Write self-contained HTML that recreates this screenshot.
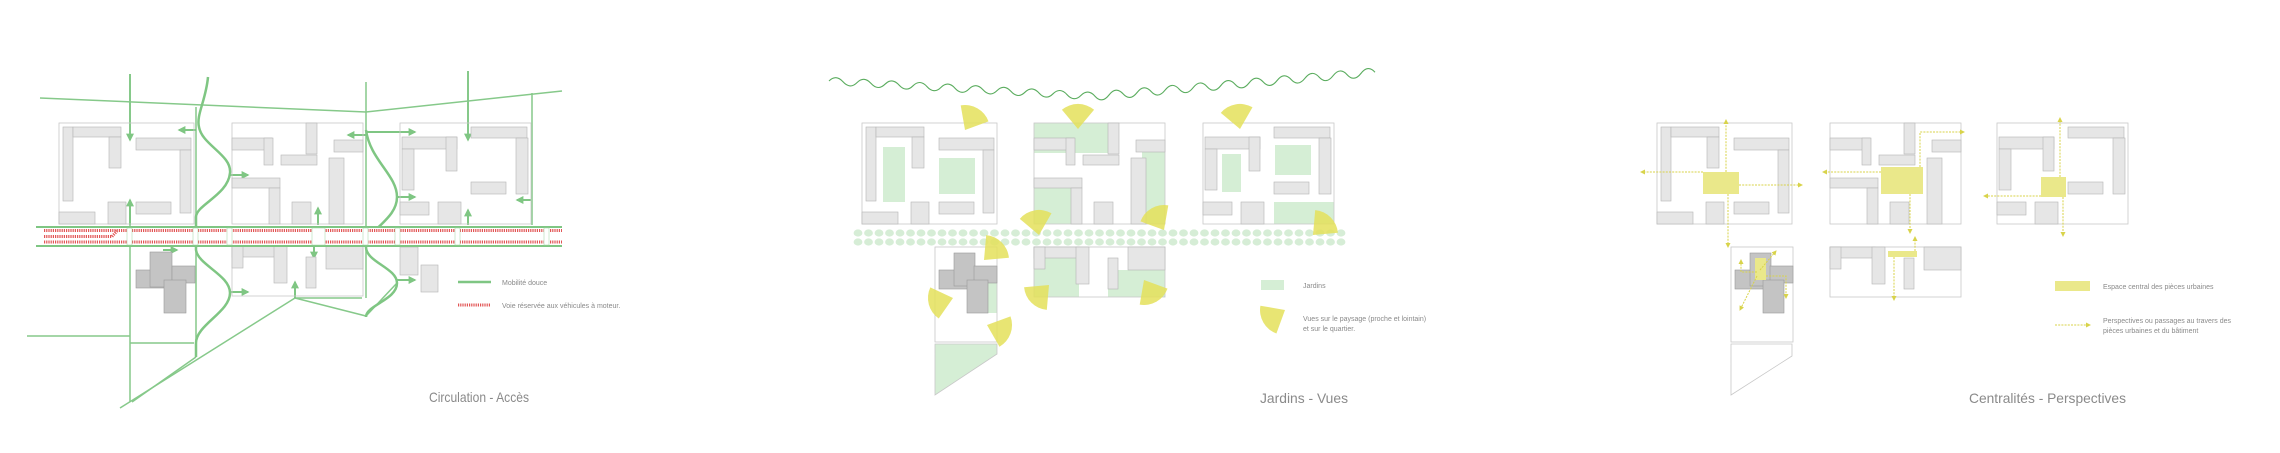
<!DOCTYPE html>
<html><head><meta charset="utf-8"><style>
html,body{margin:0;padding:0;background:#fff;}
svg{display:block;}
text{font-family:"Liberation Sans",sans-serif;fill:#8a8a8a;}
</style></head><body>
<svg width="2280" height="453" viewBox="0 0 2280 453" xmlns="http://www.w3.org/2000/svg">
<defs>
<marker id="ag" viewBox="0 0 10 10" refX="8" refY="5" markerWidth="4" markerHeight="4" orient="auto"><path d="M0,0L10,5L0,10z" fill="#7fc683"/></marker>
<marker id="ay" viewBox="0 0 10 10" refX="8" refY="5" markerWidth="5" markerHeight="5" orient="auto"><path d="M0,0L10,5L0,10z" fill="#d8d34a"/></marker>
<g id="bA">
<rect x="0" y="0" width="135" height="101" fill="none" stroke="#c8c8c8" stroke-width="0.8"/>
<g fill="#e6e6e6" stroke="#b5b5b5" stroke-width="0.6">
<rect x="4" y="4" width="10" height="74"/><rect x="14" y="4" width="48" height="10"/><rect x="50" y="14" width="12" height="31"/>
<rect x="77" y="15" width="55" height="12"/><rect x="121" y="27" width="11" height="63"/><rect x="77" y="79" width="35" height="12"/>
<rect x="0" y="89" width="36" height="12"/><rect x="49" y="79" width="18" height="22"/></g></g>
<g id="bB">
<rect x="0" y="0" width="131" height="101" fill="none" stroke="#c8c8c8" stroke-width="0.8"/>
<g fill="#e6e6e6" stroke="#b5b5b5" stroke-width="0.6">
<rect x="0" y="15" width="40" height="12"/><rect x="32" y="15" width="9" height="27"/><rect x="49" y="32" width="36" height="10"/>
<rect x="74" y="0" width="11" height="31"/><rect x="0" y="55" width="48" height="10"/><rect x="37" y="65" width="11" height="36"/>
<rect x="60" y="79" width="19" height="22"/><rect x="102" y="17" width="29" height="12"/><rect x="97" y="35" width="15" height="66"/></g></g>
<g id="bC">
<rect x="0" y="0" width="131" height="101" fill="none" stroke="#c8c8c8" stroke-width="0.8"/>
<g fill="#e6e6e6" stroke="#b5b5b5" stroke-width="0.6">
<rect x="71" y="4" width="56" height="11"/><rect x="116" y="15" width="12" height="56"/><rect x="71" y="59" width="35" height="12"/>
<rect x="2" y="14" width="55" height="12"/><rect x="2" y="26" width="12" height="41"/><rect x="46" y="14" width="11" height="34"/>
<rect x="0" y="79" width="29" height="13"/><rect x="38" y="79" width="23" height="22"/></g></g>
<g id="bL">
<rect x="0" y="0" width="62" height="95" fill="none" stroke="#c8c8c8" stroke-width="0.8"/>
<g fill="#c4c4c4" stroke="#9a9a9a" stroke-width="0.6">
<rect x="4" y="23" width="35" height="19"/><rect x="19" y="6" width="21" height="33"/><rect x="39" y="19" width="23" height="17"/><rect x="32" y="33" width="21" height="33"/></g></g>
<g id="bD">
<rect x="0" y="0" width="131" height="50" fill="none" stroke="#c8c8c8" stroke-width="0.8"/>
<g fill="#e6e6e6" stroke="#b5b5b5" stroke-width="0.6">
<rect x="0" y="0" width="45" height="11"/><rect x="0" y="0" width="11" height="22"/><rect x="42" y="0" width="13" height="37"/>
<rect x="74" y="11" width="10" height="31"/><rect x="94" y="0" width="37" height="23"/></g></g>
</defs>

<!-- ===== PANEL 1 ===== -->
<g fill="none" stroke="#86c98a" stroke-width="1.5">
<polyline points="40,98 366,112 562,91"/>
<line x1="130" y1="74" x2="130" y2="140" marker-end="url(#ag)" stroke-width="2"/>
<line x1="130" y1="225" x2="130" y2="402"/>
<line x1="196" y1="107" x2="196" y2="357"/>
<line x1="366" y1="82" x2="366" y2="298"/>
<line x1="468" y1="71" x2="468" y2="140" marker-end="url(#ag)" stroke-width="2"/>
<line x1="532" y1="93" x2="532" y2="225"/>
<line x1="120" y1="408" x2="295" y2="298"/>
<line x1="132" y1="402" x2="196" y2="357"/>
<polyline points="295,298 366,316 397,283"/>
<line x1="27" y1="336" x2="130" y2="336"/>
<line x1="130" y1="343" x2="194" y2="343"/>
<line x1="295" y1="298" x2="362" y2="298"/>
</g>
<g fill="none" stroke="#7fc683" stroke-width="2.5">
<path d="M208,77 C206,100 196,115 199,127 C202,145 232,155 230,173 C228,195 196,205 196,217 L196,250 C198,265 230,275 230,293 C230,312 196,325 196,343 L196,357"/>
<path d="M366,130 C370,160 397,175 397,197 C397,220 366,230 366,247 C366,262 397,268 397,283 C397,300 366,305 366,317"/>
</g>
<g stroke="#7fc683" stroke-width="2" fill="none">
<line x1="130" y1="225" x2="130" y2="200" marker-end="url(#ag)"/>
<line x1="468" y1="225" x2="468" y2="210" marker-end="url(#ag)"/>
<line x1="318" y1="225" x2="318" y2="208" marker-end="url(#ag)"/>
<line x1="314" y1="246" x2="314" y2="258" marker-end="url(#ag)"/>
<line x1="295" y1="298" x2="295" y2="282" marker-end="url(#ag)"/>
<line x1="196" y1="130" x2="179" y2="130" marker-end="url(#ag)"/>
<line x1="230" y1="175" x2="248" y2="175" marker-end="url(#ag)"/>
<line x1="366" y1="135" x2="348" y2="135" marker-end="url(#ag)"/>
<line x1="366" y1="132" x2="415" y2="132" marker-end="url(#ag)"/>
<line x1="397" y1="197" x2="415" y2="197" marker-end="url(#ag)"/>
<line x1="531" y1="200" x2="517" y2="200" marker-end="url(#ag)"/>
<line x1="230" y1="292" x2="248" y2="292" marker-end="url(#ag)"/>
<line x1="397" y1="280" x2="415" y2="280" marker-end="url(#ag)"/>
<line x1="163" y1="250" x2="177" y2="250" marker-end="url(#ag)"/>
</g>
<use href="#bA" x="59" y="123"/>
<use href="#bB" x="232" y="123"/>
<use href="#bC" x="400" y="123"/>
<use href="#bD" x="232" y="246"/>
<g fill="#c4c4c4" stroke="#9a9a9a" stroke-width="0.6">
<rect x="136" y="270" width="36" height="18"/><rect x="150" y="252" width="22" height="35"/><rect x="172" y="266" width="23" height="17"/><rect x="164" y="280" width="22" height="33"/></g>
<g fill="#e6e6e6" stroke="#b5b5b5" stroke-width="0.6"><rect x="400" y="247" width="18" height="28"/><rect x="421" y="265" width="17" height="27"/></g>
<!-- road -->
<rect x="36" y="227" width="526" height="19" fill="#fff"/>
<line x1="36" y1="227" x2="562" y2="227" stroke="#7fc683" stroke-width="2"/>
<line x1="36" y1="246" x2="562" y2="246" stroke="#7fc683" stroke-width="2"/>
<g stroke="#e25555" stroke-width="3" stroke-dasharray="1.2 1">
<line x1="44" y1="230.5" x2="562" y2="230.5"/><line x1="44" y1="236.5" x2="112" y2="236.5"/><line x1="44" y1="242" x2="562" y2="242"/>
<line x1="112" y1="236.5" x2="117" y2="231"/></g>
<g fill="#fff" stroke="#9fd6a2" stroke-width="0.5">
<rect x="127" y="228" width="5" height="17"/><rect x="193" y="228" width="5" height="17"/><rect x="227" y="228" width="5" height="17"/>
<rect x="312" y="228" width="13" height="17"/><rect x="363" y="228" width="5" height="17"/><rect x="395" y="228" width="5" height="17"/>
<rect x="455" y="228" width="5" height="17"/><rect x="544" y="228" width="5" height="17"/></g>
<line x1="458" y1="282" x2="491" y2="282" stroke="#7fc683" stroke-width="2.5"/>
<line x1="458" y1="305" x2="491" y2="305" stroke="#e25555" stroke-width="3" stroke-dasharray="1.2 1"/>
<text x="502" y="285" font-size="7">Mobilité douce</text>
<text x="502" y="308" font-size="7">Voie réservée aux véhicules à moteur.</text>
<text x="429" y="402" font-size="14" textLength="100" lengthAdjust="spacingAndGlyphs">Circulation - Accès</text>

<!-- ===== PANEL 2 ===== -->
<path fill="none" stroke="#5aac5e" stroke-width="1.1" d="M829,81 q7,-7 14,0.8 t14,0.8 t14,0.8 t14,0.8 t14,0.8 t14,0.8 t14,0.8 t14,0.8 t14,0.8 t14,0.8 t14,0.8 t14,0.8 t14,0.8 t14,0.8 t14,0.8 t14,0.8 t14,0.8 t14,0.8 t14,0.8 t14,-1.2 t14,-1.2 t14,-1.2 t14,-1.2 t14,-1.2 t14,-1.2 t14,-1.2 t14,-1.2 t14,-1.2 t14,-1.2 t14,-1.2 t14,-1.2 t14,-1.2 t14,-1.2 t14,-1.2 t14,-1.2 t14,-1.2 t14,-1.2 t14,-1.2 t14,-1.2"/>
<g fill="#d5eed5">
<rect x="883" y="147" width="22" height="55"/><rect x="939" y="158" width="36" height="36"/>
<rect x="1034" y="123" width="74" height="30"/><rect x="1034" y="188" width="38" height="36"/><rect x="1142" y="152" width="23" height="72"/>
<rect x="1275" y="145" width="36" height="30"/><rect x="1222" y="154" width="19" height="38"/><rect x="1274" y="202" width="60" height="22"/>
<rect x="988" y="283" width="9" height="30"/>
<rect x="1034" y="258" width="45" height="39"/><rect x="1108" y="270" width="57" height="27"/>
<polygon points="935,344 997,344 997,354 935,395" stroke="#c8c8c8" stroke-width="0.8"/>
</g>
<use href="#bA" x="862" y="123"/>
<use href="#bB" x="1034" y="123"/>
<use href="#bC" x="1203" y="123"/>
<use href="#bL" x="935" y="247"/>
<use href="#bD" x="1034" y="247"/>
<g id="dotrow" fill="#d6edd6">
<ellipse cx="858" cy="233" rx="4.4" ry="3.6"/><ellipse cx="868.5" cy="233" rx="4.4" ry="3.6"/><ellipse cx="879" cy="233" rx="4.4" ry="3.6"/><ellipse cx="889.5" cy="233" rx="4.4" ry="3.6"/><ellipse cx="900" cy="233" rx="4.4" ry="3.6"/><ellipse cx="910.5" cy="233" rx="4.4" ry="3.6"/><ellipse cx="921" cy="233" rx="4.4" ry="3.6"/><ellipse cx="931.5" cy="233" rx="4.4" ry="3.6"/><ellipse cx="942" cy="233" rx="4.4" ry="3.6"/><ellipse cx="952.5" cy="233" rx="4.4" ry="3.6"/><ellipse cx="963" cy="233" rx="4.4" ry="3.6"/><ellipse cx="973.5" cy="233" rx="4.4" ry="3.6"/><ellipse cx="984" cy="233" rx="4.4" ry="3.6"/><ellipse cx="994.5" cy="233" rx="4.4" ry="3.6"/><ellipse cx="1005" cy="233" rx="4.4" ry="3.6"/><ellipse cx="1015.5" cy="233" rx="4.4" ry="3.6"/><ellipse cx="1026" cy="233" rx="4.4" ry="3.6"/><ellipse cx="1036.5" cy="233" rx="4.4" ry="3.6"/><ellipse cx="1047" cy="233" rx="4.4" ry="3.6"/><ellipse cx="1057.5" cy="233" rx="4.4" ry="3.6"/><ellipse cx="1068" cy="233" rx="4.4" ry="3.6"/><ellipse cx="1078.5" cy="233" rx="4.4" ry="3.6"/><ellipse cx="1089" cy="233" rx="4.4" ry="3.6"/><ellipse cx="1099.5" cy="233" rx="4.4" ry="3.6"/><ellipse cx="1110" cy="233" rx="4.4" ry="3.6"/><ellipse cx="1120.5" cy="233" rx="4.4" ry="3.6"/><ellipse cx="1131" cy="233" rx="4.4" ry="3.6"/><ellipse cx="1141.5" cy="233" rx="4.4" ry="3.6"/><ellipse cx="1152" cy="233" rx="4.4" ry="3.6"/><ellipse cx="1162.5" cy="233" rx="4.4" ry="3.6"/><ellipse cx="1173" cy="233" rx="4.4" ry="3.6"/><ellipse cx="1183.5" cy="233" rx="4.4" ry="3.6"/><ellipse cx="1194" cy="233" rx="4.4" ry="3.6"/><ellipse cx="1204.5" cy="233" rx="4.4" ry="3.6"/><ellipse cx="1215" cy="233" rx="4.4" ry="3.6"/><ellipse cx="1225.5" cy="233" rx="4.4" ry="3.6"/><ellipse cx="1236" cy="233" rx="4.4" ry="3.6"/><ellipse cx="1246.5" cy="233" rx="4.4" ry="3.6"/><ellipse cx="1257" cy="233" rx="4.4" ry="3.6"/><ellipse cx="1267.5" cy="233" rx="4.4" ry="3.6"/><ellipse cx="1278" cy="233" rx="4.4" ry="3.6"/><ellipse cx="1288.5" cy="233" rx="4.4" ry="3.6"/><ellipse cx="1299" cy="233" rx="4.4" ry="3.6"/><ellipse cx="1309.5" cy="233" rx="4.4" ry="3.6"/><ellipse cx="1320" cy="233" rx="4.4" ry="3.6"/><ellipse cx="1330.5" cy="233" rx="4.4" ry="3.6"/><ellipse cx="1341" cy="233" rx="4.4" ry="3.6"/>
</g>
<use href="#dotrow" x="0" y="9"/>
<g fill="#e4e05a" fill-opacity="0.85">
<path d="M965,130 L960.7,105.4 A25,25 0 0 1 988.5,121.4 Z"/>
<path d="M1078,129 L1061.9,109.8 A25,25 0 0 1 1094.1,109.8 Z"/>
<path d="M1240,129 L1220.8,112.9 A25,25 0 0 1 1252.5,107.3 Z"/>
<path d="M1039,235 L1019.8,218.9 A25,25 0 0 1 1051.5,213.3 Z"/>
<path d="M1164,230 L1140.5,221.4 A25,25 0 0 1 1168.3,205.4 Z"/>
<path d="M1313,235 L1315.2,210.1 A25,25 0 0 1 1337.9,232.8 Z"/>
<path d="M984,260 L986.2,235.1 A25,25 0 0 1 1008.9,257.8 Z"/>
<path d="M1049,285 L1046.8,309.9 A25,25 0 0 1 1024.1,287.2 Z"/>
<path d="M1144,280 L1167.5,288.6 A25,25 0 0 1 1139.7,304.6 Z"/>
<path d="M953,298 L938.7,318.5 A25,25 0 0 1 930.3,287.4 Z"/>
<path d="M987,325 L1010.5,316.4 A25,25 0 0 1 999.5,346.7 Z"/>
<path d="M1285,310 L1276.4,333.5 A25,25 0 0 1 1260.4,305.7 Z"/>
</g>
<rect x="1261" y="280" width="23" height="10" fill="#d5eed5"/>
<text x="1303" y="288" font-size="7">Jardins</text>
<text x="1303" y="321" font-size="7">Vues sur le paysage (proche et lointain)</text>
<text x="1303" y="331" font-size="7">et sur le quartier.</text>
<text x="1260" y="403" font-size="14" textLength="88" lengthAdjust="spacingAndGlyphs">Jardins - Vues</text>

<!-- ===== PANEL 3 ===== -->
<use href="#bA" x="1657" y="123"/>
<use href="#bB" x="1830" y="123"/>
<use href="#bC" x="1997" y="123"/>
<use href="#bL" x="1731" y="247"/>
<use href="#bD" x="1830" y="247"/>
<polygon points="1731,344 1792,344 1792,356 1731,395" fill="none" stroke="#c8c8c8" stroke-width="0.8"/>
<g fill="#eae88a">
<rect x="1703" y="172" width="36" height="22"/><rect x="1881" y="167" width="42" height="27"/><rect x="2041" y="177" width="25" height="20"/>
<rect x="1888" y="251" width="29" height="6"/><rect x="1755" y="258" width="11" height="22"/></g>
<g fill="none" stroke="#d8d34a" stroke-width="1" stroke-dasharray="2 1.2" marker-end="url(#ay)">
<line x1="1726" y1="172" x2="1726" y2="120"/><line x1="1703" y1="172" x2="1641" y2="172"/><line x1="1739" y1="185" x2="1802" y2="185"/><line x1="1728" y1="194" x2="1728" y2="247"/>
<line x1="1881" y1="172" x2="1823" y2="172"/><polyline points="1920,167 1920,132 1964,132"/><line x1="1910" y1="194" x2="1910" y2="233"/>
<line x1="2060" y1="177" x2="2060" y2="118"/><line x1="2041" y1="196" x2="1984" y2="196"/><line x1="2063" y1="197" x2="2063" y2="236"/>
<line x1="1915" y1="251" x2="1915" y2="237"/><line x1="1894" y1="257" x2="1894" y2="300"/>
<line x1="1760" y1="270" x2="1776" y2="251"/><line x1="1757" y1="276" x2="1740" y2="310"/><polyline points="1757,272 1741,272 1741,260"/><polyline points="1766,276 1786,276 1786,298"/>
<line x1="2055" y1="325" x2="2090" y2="325"/>
</g>
<rect x="2055" y="281" width="35" height="10" fill="#eae88a"/>
<text x="2103" y="289" font-size="7">Espace central des pièces urbaines</text>
<text x="2103" y="323" font-size="7">Perspectives ou passages au travers des</text>
<text x="2103" y="333" font-size="7">pièces urbaines et du bâtiment</text>
<text x="1969" y="403" font-size="14" textLength="157" lengthAdjust="spacingAndGlyphs">Centralités - Perspectives</text>
</svg>
</body></html>
